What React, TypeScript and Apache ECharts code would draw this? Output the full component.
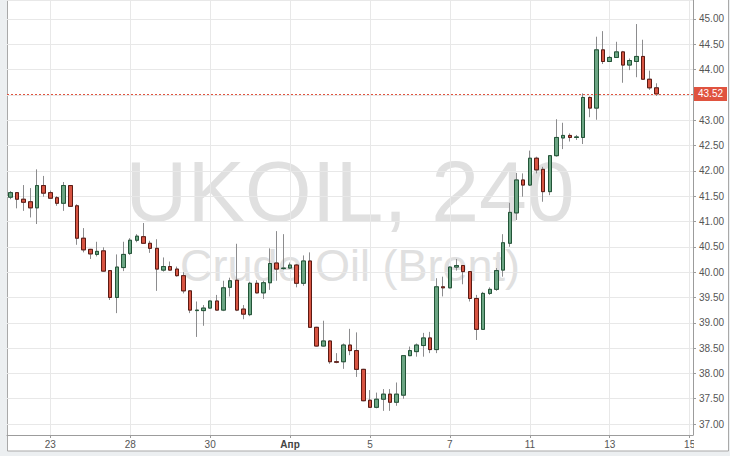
import React, { useEffect, useRef } from 'react';
import * as echarts from 'echarts';

// 4-hour candles, UKOIL (Brent)
const opens = [
  41.48, 41.57, 41.44, 41.39, 41.27, 41.71, 41.57, 41.47, 41.36, 41.71,
  41.31, 40.67, 40.45, 40.35, 40.42, 40.03, 39.50, 40.09, 40.37, 40.63,
  40.70, 40.57, 40.47, 40.04, 40.11, 40.06, 39.93, 39.63, 39.24, 39.24,
  39.29, 39.43, 39.25, 39.70, 39.84, 39.27, 39.16, 39.78, 39.59, 39.79,
  40.18, 40.07, 40.08, 40.14, 39.78, 40.22, 38.91, 38.54, 38.64, 38.23,
  38.23, 38.56, 38.45, 38.08, 37.47, 37.33, 37.49, 37.59, 37.43, 37.57,
  38.35, 38.43, 38.55, 38.70, 38.47, 39.71, 39.69, 40.10, 40.13, 40.01,
  39.48, 38.87, 39.58, 39.66, 40.04, 40.57, 41.17, 41.82, 41.72, 42.25,
  42.03, 41.59, 42.30, 42.65, 42.70, 42.66, 42.66, 43.45, 43.24, 44.39,
  44.16, 44.24, 44.35, 44.09, 44.16, 44.26, 43.81, 43.64,
];
const closes = [
  41.57, 41.44, 41.38, 41.27, 41.71, 41.56, 41.46, 41.36, 41.71, 41.30,
  40.67, 40.44, 40.36, 40.41, 40.02, 39.50, 40.10, 40.35, 40.63, 40.71,
  40.57, 40.47, 40.06, 40.11, 40.04, 39.93, 39.63, 39.25, 39.25, 39.29,
  39.43, 39.25, 39.69, 39.83, 39.25, 39.17, 39.78, 39.59, 39.79, 40.17,
  40.06, 40.08, 40.14, 39.78, 40.22, 38.91, 38.54, 38.64, 38.23, 38.22,
  38.56, 38.45, 38.08, 37.46, 37.33, 37.49, 37.59, 37.43, 37.59, 38.35,
  38.45, 38.56, 38.70, 38.47, 39.71, 39.69, 40.10, 40.13, 40.01, 39.48,
  38.87, 39.58, 39.66, 40.03, 40.58, 41.18, 41.82, 41.72, 42.25, 42.02,
  41.59, 42.30, 42.66, 42.70, 42.66, 42.67, 43.45, 43.24, 44.39, 44.16,
  44.24, 44.35, 44.09, 44.18, 44.26, 43.81, 43.64, 43.52,
];
const highs = [
  41.60, 41.58, 41.72, 41.66, 42.03, 41.90, 41.61, 41.50, 41.78, 41.72,
  41.34, 40.87, 40.46, 40.60, 40.49, 40.04, 40.35, 40.60, 40.67, 40.75,
  40.97, 40.62, 40.65, 40.29, 40.21, 40.11, 40.00, 39.64, 39.42, 39.35,
  39.44, 39.55, 39.83, 39.89, 40.56, 39.35, 39.81, 39.84, 39.83, 40.47,
  40.81, 40.75, 40.19, 40.16, 40.33, 40.39, 38.92, 39.04, 38.65, 38.40,
  38.59, 38.88, 38.81, 38.09, 37.67, 37.62, 37.69, 37.69, 37.82, 38.36,
  38.53, 38.59, 38.80, 38.82, 39.88, 39.91, 40.11, 40.26, 40.14, 40.02,
  39.55, 39.61, 39.70, 40.08, 40.75, 41.37, 41.96, 41.95, 42.40, 42.28,
  42.08, 42.31, 43.02, 42.95, 42.74, 42.71, 43.53, 43.47, 44.65, 44.76,
  44.27, 44.55, 44.37, 44.22, 44.90, 44.59, 43.98, 43.73,
];
const lows = [
  41.44, 41.26, 41.21, 41.08, 40.95, 41.49, 41.45, 41.31, 41.21, 41.29,
  40.54, 40.39, 40.26, 40.31, 40.01, 39.45, 39.19, 40.02, 40.34, 40.59,
  40.56, 40.38, 39.63, 40.01, 40.03, 39.91, 39.58, 39.19, 38.72, 38.94,
  39.28, 39.24, 39.23, 39.52, 39.23, 39.07, 39.13, 39.58, 39.47, 39.65,
  39.83, 40.05, 40.07, 39.70, 39.73, 38.90, 38.53, 38.53, 38.19, 38.20,
  38.09, 38.36, 37.93, 37.45, 37.32, 37.31, 37.26, 37.26, 37.36, 37.50,
  38.34, 38.33, 38.33, 38.40, 38.40, 39.52, 39.68, 40.03, 39.76, 39.42,
  38.66, 38.86, 39.55, 39.63, 39.91, 40.50, 41.03, 41.49, 41.70, 41.95,
  41.39, 41.52, 42.28, 42.43, 42.58, 42.61, 42.53, 43.06, 43.01, 44.11,
  44.15, 44.23, 43.74, 43.99, 43.85, 43.80, 43.60, 43.48,
];

const dayLabels = ['23', '28', '30', 'Апр', '5', '7', '11', '13', '15'];
const monthLabel = 'Апр';
const slotCount = 103;
const labelStart = 6;
const labelStep = 12;
const symbolTitle = 'UKOIL, 240';
const symbolName = 'Crude Oil (Brent)';

const categories: string[] = Array.from({ length: slotCount }, (_, i) => {
  const k = (i - labelStart) / labelStep;
  return Number.isInteger(k) && k >= 0 && k < dayLabels.length ? dayLabels[k] : '';
});

const FONT = '"Liberation Sans", Arial, sans-serif';
const LAST_COLOR = '#e0533f';

export default function App() {
  const ref = useRef<HTMLDivElement>(null);
  useEffect(() => {
    document.body.style.margin = '0';
    if (!ref.current) return;
    const chart = echarts.init(ref.current, undefined, { renderer: 'svg' });
    const full = opens.map((o, i) => [o, closes[i], lows[i], highs[i]]);
    const bodies = opens.map((o, i) => [o, closes[i], Math.min(o, closes[i]), Math.max(o, closes[i])]);
    const lastClose = closes[closes.length - 1];
    const showSlot = (index: number, value: string) => value !== '';
    const wickColor = '#8c8c8e';
    const lastLine = { color: LAST_COLOR, type: [2, 2], width: 1, opacity: 1 };

    chart.setOption({
      animation: false,
      grid: { left: 7, right: 37, top: 0, bottom: 21 },
      xAxis: {
        type: 'category',
        data: categories,
        boundaryGap: true,
        axisLine: { show: true, lineStyle: { color: '#9c9c9c' } },
        axisTick: { show: true, interval: showSlot, alignWithLabel: true, length: 3, lineStyle: { color: '#9c9c9c' } },
        axisLabel: {
          interval: showSlot,
          margin: 4,
          fontSize: 10,
          fontFamily: FONT,
          color: '#555',
          formatter: (v: string) => (v === monthLabel ? '{m|' + v + '}' : v),
          rich: { m: { fontWeight: 'bold', color: '#444', fontSize: 10, fontFamily: FONT } },
        },
        splitLine: { show: true, interval: showSlot, alignWithLabel: true, lineStyle: { color: '#e8e8e8' } },
      },
      yAxis: {
        type: 'value',
        position: 'right',
        min: 36.783,
        max: 45.375,
        splitNumber: 17,
        minInterval: 0.5,
        maxInterval: 0.5,
        axisLine: { show: true, lineStyle: { color: '#9c9c9c' } },
        axisTick: { show: true, length: 3, lineStyle: { color: '#9c9c9c' } },
        axisLabel: {
          margin: 6,
          fontSize: 10,
          fontFamily: FONT,
          color: '#555',
          showMinLabel: false,
          showMaxLabel: false,
          formatter: (v: number) => v.toFixed(2),
        },
        splitLine: { show: true, lineStyle: { color: '#e8e8e8' } },
      },
      graphic: [
        {
          type: 'rect', z: -10, silent: true,
          shape: { x: 7.5, y: -1, width: 721, height: 452 },
          style: { fill: '#ffffff', stroke: '#a9a9a9', lineWidth: 1 },
        },
        {
          type: 'text', z: -5, silent: true, x: 350, y: 191,
          style: { text: symbolTitle, align: 'center', verticalAlign: 'middle', font: '86px ' + FONT, fill: '#e0e0e0' },
        },
        {
          type: 'text', z: -5, silent: true, x: 350, y: 265,
          style: { text: symbolName, align: 'center', verticalAlign: 'middle', font: '45px ' + FONT, fill: '#e0e0e0' },
        },
        {
          type: 'rect', z: 100, silent: true,
          shape: { x: 694, y: 436, width: 33, height: 14 },
          style: { fill: '#ffffff' },
        },
      ],
      series: [
        {
          type: 'candlestick',
          data: full,
          barWidth: 4,
          itemStyle: { color: wickColor, color0: wickColor, borderColor: wickColor, borderColor0: wickColor, borderWidth: 1 },
          silent: true,
        },
        {
          type: 'candlestick',
          data: bodies,
          barWidth: 4,
          itemStyle: { color: '#6ba583', color0: '#d75442', borderColor: '#225437', borderColor0: '#5b1a13', borderWidth: 1 },
          silent: true,
        },
        {
          type: 'line',
          data: [],
          color: LAST_COLOR,
          silent: true,
          markLine: {
            silent: true,
            symbol: ['none', 'none'],
            precision: 2,
            data: [{ yAxis: lastClose, lineStyle: lastLine, itemStyle: { color: LAST_COLOR } }],
            lineStyle: lastLine,
            itemStyle: { color: LAST_COLOR },
            label: {
              show: true,
              position: 'end',
              distance: 1,
              formatter: () => lastClose.toFixed(2),
              backgroundColor: LAST_COLOR,
              color: '#fff',
              fontSize: 10,
              fontFamily: FONT,
              padding: [2, 4, 2, 4],
            },
          },
        },
      ],
    });
    return () => chart.dispose();
  }, []);
  return <div ref={ref} style={{ width: 730, height: 456, background: '#eceff1' }} />;
}
